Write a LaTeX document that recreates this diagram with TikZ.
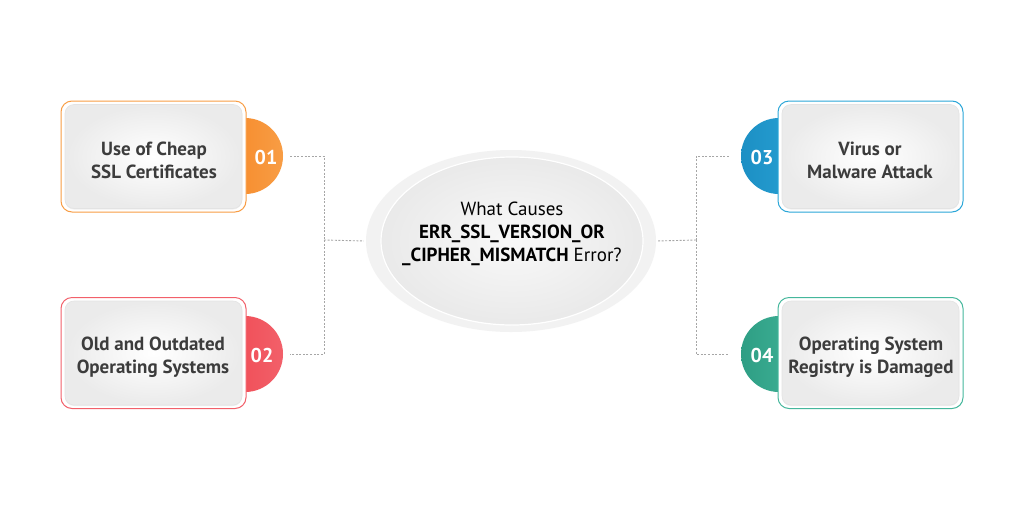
\documentclass[tikz,border=0pt]{standalone}
\usepackage{fontspec}
\setmainfont{PT Sans}
\usetikzlibrary{shapes.geometric,shadows}
\definecolor{corange}{HTML}{F5821F}
\definecolor{corangeL}{HTML}{F89D45}
\definecolor{cred}{HTML}{EF434B}
\definecolor{credL}{HTML}{F2606A}
\definecolor{cblue}{HTML}{1C8FC4}
\definecolor{cblueL}{HTML}{2BA6D8}
\definecolor{cteal}{HTML}{2E9E84}
\definecolor{ctealL}{HTML}{45B79C}
\definecolor{txt}{HTML}{3C3C3C}
\tikzset{
  outerbox/.style={draw=#1, line width=1pt, fill=white, rounded corners=11pt,
    minimum width=185pt, minimum height=111pt},
  innerbox/.style={rounded corners=9pt, inner color=white, outer color=gray!16,
    draw=gray!22, line width=0.6pt, minimum width=177pt, minimum height=104pt,
    drop shadow={shadow xshift=0pt, shadow yshift=-1pt, opacity=0.12}},
  boxtext/.style={align=center, text=txt, font=\fontsize{19}{23}\selectfont\bfseries},
  numcirc/.style={circle, minimum size=76pt, inner sep=0pt, left color=#1, right color=#1L, draw=none},
  numtext/.style={text=white, font=\fontsize{20}{24}\selectfont\bfseries},
  conn/.style={draw=gray!70, line width=0.9pt, dash pattern=on 2pt off 1.6pt},
}
\begin{document}
\begin{tikzpicture}[x=1pt,y=-1pt]
\useasboundingbox (0,0) rectangle (1024,512);
\fill[white] (0,0) rectangle (1024,512);

% circles (behind boxes)
\node[numcirc=corange] (c1) at (245,156) {};
\node[numcirc=cred] (c2) at (245,354) {};
\node[numcirc=cblue] (c3) at (779,156) {};
\node[numcirc=cteal] (c4) at (779,354) {};

% boxes
\node[outerbox=corangeL] (o1) at (153.5,156.5) {};
\node[innerbox] (i1) at (153.5,156.5) {};
\node[boxtext] (t1) at (154,160) {Use of Cheap\\SSL Certificates};
\node[outerbox=credL] (o2) at (153.5,353) {};
\node[innerbox] (i2) at (153.5,353) {};
\node[boxtext] (t2) at (153,357) {Old and Outdated\\Operating Systems};
\node[outerbox=cblueL] (o3) at (870.5,156.5) {};
\node[innerbox] (i3) at (870.5,156.5) {};
\node[boxtext] (t3) at (870,160) {Virus or\\Malware Attack};
\node[outerbox=ctealL] (o4) at (870.5,353) {};
\node[innerbox] (i4) at (870.5,353) {};
\node[boxtext] (t4) at (871,357) {Operating System\\Registry is Damaged};

% numbers
\node[numtext] (n1) at (266,157) {01};
\node[numtext] (n2) at (262,355) {02};
\node[numtext] (n3) at (762,157) {03};
\node[numtext] (n4) at (762,355) {04};

% centre ellipse
\node[ellipse, minimum width=290pt, minimum height=182pt, fill=gray!10] (ring) at (511,241) {};
\node[ellipse, minimum width=262pt, minimum height=168pt, inner color=gray!5, outer color=gray!17,
      draw=white, line width=1.2pt] (ell) at (512,241) {};
\node[align=center, text=black, font=\fontsize{19}{23}\selectfont] (q) at (512,234)
  {What Causes\\\textbf{ERR\_SSL\_VERSION\_OR}\\\textbf{\_CIPHER\_MISMATCH} Error?};

% connectors
\coordinate (jl) at (324,240);
\coordinate (jr) at (696,240);
\draw[conn, shorten <=7pt] (c1.east) -| (jl);
\draw[conn, shorten >=7pt] (jl) |- (c2.east);
\draw[conn, shorten >=2pt] (jl) -- (ring.west);
\draw[conn, shorten <=12pt] (c3.west) -| (jr);
\draw[conn, shorten >=12pt] (jr) |- (c4.west);
\draw[conn, shorten >=1pt] (jr) -- (ring.east);
\end{tikzpicture}
\end{document}
